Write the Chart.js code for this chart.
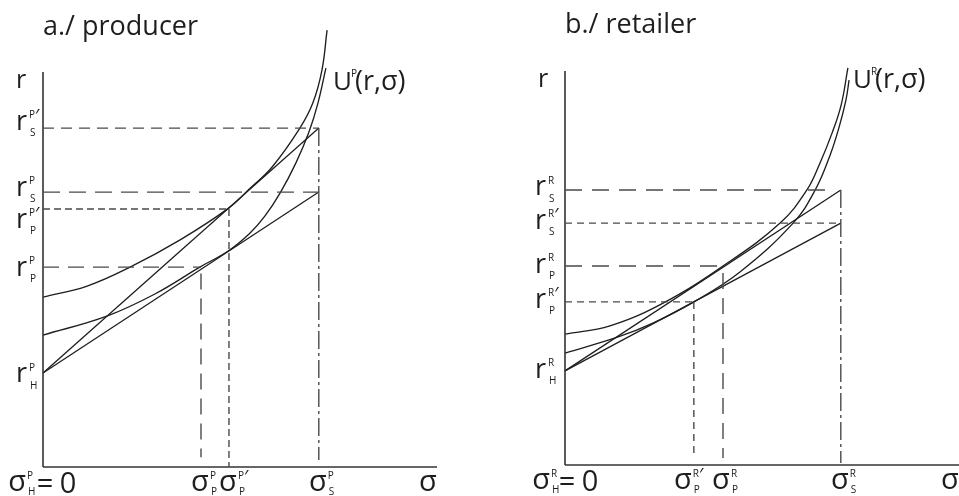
<!DOCTYPE html>
<html><head><meta charset="utf-8">
<script src="https://cdn.jsdelivr.net/npm/chart.js@4"></script>
<style>
html,body{margin:0;padding:0;background:#fff;overflow:hidden;}
#wrap{position:relative;width:959px;height:496px;}
.pane{position:absolute;top:0;height:496px;}
#pa{left:0;width:480px;} #pb{left:480px;width:479px;}
</style></head><body>
<div id="wrap"><div class="pane" id="pa"><canvas id="ca" width="480" height="496"></canvas></div><div class="pane" id="pb"><canvas id="cb" width="479" height="496"></canvas></div></div>
<script>
// ---------- producer (panel a) ----------
const producerCurveHighSigma = [0, 1.12, 2.21, 3.48, 4.72, 5.25, 5.81, 6.52, 6.85, 7.08, 7.21];
const producerCurveHighR     = [4.30, 4.58, 5.06, 5.75, 6.56, 7.05, 7.59, 8.58, 9.22, 10.05, 11.06];
const producerCurveLowSigma  = [0, 1.62, 2.84, 3.98, 4.70, 5.25, 5.63, 6.02, 6.42, 6.75, 6.98, 7.18];
const producerCurveLowR      = [3.34, 3.82, 4.38, 5.06, 5.47, 5.92, 6.35, 6.94, 7.70, 8.48, 9.22, 10.10];
const producerLineSigma      = [0, 7.0];
const producerLineLowR       = [2.38, 6.96];
const producerLineHighR      = [2.38, 8.58];
const producerRTicks         = [8.58, 6.96, 6.53, 5.06, 2.38];
const producerRTickSup       = ['P', 'P', 'P', 'P', 'P'];
const producerRTickPrime     = [true, false, true, false, false];
const producerRTickSub       = ['S', 'S', 'P', 'P', 'H'];
const producerSigmaTicks     = [0, 4.01, 4.72, 7.0];
const producerSigmaTickSup   = ['P', 'P', 'P', 'P'];
const producerSigmaTickPrime = [false, false, true, false];
const producerSigmaTickSub   = ['H', 'P', 'P', 'S'];

// ---------- retailer (panel b) ----------
const retailerCurveHighSigma = [0, 1.14, 2.49, 4.01, 5.46, 6.14, 6.47, 6.78, 7.01, 7.18];
const retailerCurveHighR     = [3.32, 3.53, 4.11, 5.05, 6.14, 6.98, 7.66, 8.43, 9.14, 10.08];
const retailerCurveLowSigma  = [0, 1.35, 2.23, 3.27, 4.44, 5.79, 6.35, 6.73, 6.95, 7.13, 7.21];
const retailerCurveLowR      = [2.84, 3.25, 3.60, 4.14, 4.90, 6.14, 6.98, 7.87, 8.55, 9.26, 9.77];
const retailerLineSigma      = [0, 7.0];
const retailerLineHighR      = [2.39, 6.98];
const retailerLineLowR       = [2.39, 6.14];
const retailerRTicks         = [6.98, 6.14, 5.05, 4.14, 2.39];
const retailerRTickSup       = ['R', 'R', 'R', 'R', 'R'];
const retailerRTickPrime     = [false, true, false, true, false];
const retailerRTickSub       = ['S', 'S', 'P', 'P', 'H'];
const retailerSigmaTicks     = [0, 3.27, 4.01, 7.0];
const retailerSigmaTickSup   = ['R', 'R', 'R', 'R'];
const retailerSigmaTickPrime = [false, true, false, false];
const retailerSigmaTickSub   = ['H', 'P', 'P', 'S'];

const FONT = '"Open Sans", "DejaVu Sans", sans-serif';
const INK = '#1e1e1e';
const GUIDE = '#4a4a4a';

function pts(xs, ys){ return xs.map((x,i)=>({x:x, y:ys[i]})); }
function lineDs(data, opt){
  return Object.assign({data:data, showLine:true, pointRadius:0, borderColor:INK, borderWidth:1.3,
    fill:false, clip:false, tension:0, capBezierPoints:false}, opt||{});
}
function curveDs(xs, ys){ return lineDs(pts(xs,ys), {tension:0.4, borderWidth:1.35}); }
function guide(x1,y1,x2,y2,dash){ return lineDs([{x:x1,y:y1},{x:x2,y:y2}], {borderColor:GUIDE, borderWidth:1.4, borderDash:dash}); }

function txt(ctx, s, x, y, size, align){
  ctx.font = size + 'px ' + FONT; ctx.textAlign = align || 'left'; ctx.textBaseline = 'alphabetic';
  ctx.fillStyle = INK; ctx.fillText(s, x, y);
}
function scripts(ctx, x, cy, sup, prime, sub, supDy, subDy){
  txt(ctx, sup, x, cy + supDy + 3.6, 10);
  if (prime){ ctx.font = '10px ' + FONT; const w = ctx.measureText(sup).width; txt(ctx, '\u2032', x + w, cy + supDy + 7.5, 19); }
  txt(ctx, sub, x + 1, cy + subDy + 3.6, 10);
}

function labelPlugin(L){
  return { id:'labels', afterDatasetsDraw(chart){
    const ctx = chart.ctx, xs = chart.scales.x, ys = chart.scales.y;
    const ax = xs.getPixelForValue(0), ay = ys.getPixelForValue(0), top = ys.getPixelForValue(10);
    ctx.save();
    txt(ctx, L.title, ax, L.titleY, 27);
    txt(ctx, 'r', ax - 22, top + 15.5, 25, 'center');
    txt(ctx, '\u03c3', xs.getPixelForValue(9.77), ay + 16 + 7.5, 29, 'center');
    L.rTicks.forEach((v,i)=>{
      const cy = ys.getPixelForValue(v) + L.rDy[i];
      txt(ctx, 'r', ax - L.rGap, cy + 7.5, 27, 'right');
      scripts(ctx, ax - L.rGap + 2, cy, L.rSup[i], L.rPrime[i], L.rSub[i], -8, 10);
    });
    L.sTicks.forEach((v,i)=>{
      const px = xs.getPixelForValue(v), cy = ay + 16;
      txt(ctx, '\u03c3', px + L.sDx[i], cy + 7.5, 29, 'center');
      scripts(ctx, px + L.sDx[i] + 10, cy, L.sSup[i], L.sPrime[i], L.sSub[i], -8, 8);
      if (i === 0){ txt(ctx, '=', ax + 2, cy + 9.5, 29, 'center'); txt(ctx, '0', ax + 25, cy + 9.5, 29, 'center'); }
    });
    const ux = xs.getPixelForValue(L.uSigma), uy = ys.getPixelForValue(L.uR);
    txt(ctx, 'U', ux, uy, 26);
    ctx.font = '26px ' + FONT; const wU = ctx.measureText('U').width;
    txt(ctx, L.uSup, ux + wU - 1, uy - 13, 10);
    txt(ctx, '(r,\u03c3)', ux + wU + 3, uy, 27);
    ctx.restore();
  }};
}

function makeChart(id, datasets, pad, L){
  return new Chart(document.getElementById(id), {
    type:'line',
    data:{datasets:datasets},
    options:{
      responsive:false, animation:false, devicePixelRatio:1,
      layout:{padding:pad},
      plugins:{legend:{display:false}, tooltip:{enabled:false}, title:{display:false}},
      scales:{
        x:{type:'linear', min:0, max:10, display:false},
        y:{type:'linear', min:0, max:10, display:false}
      }
    },
    plugins:[labelPlugin(L)]
  });
}

const axisStyle = {borderColor:'#333', borderWidth:1.6};

const dsA = [
  guide(0, producerRTicks[0], producerSigmaTicks[3], producerRTicks[0], [11,7]),
  guide(0, producerRTicks[1], producerSigmaTicks[3], producerRTicks[1], [17,9]),
  guide(0, producerRTicks[2], producerSigmaTicks[2], producerRTicks[2], [7,4]),
  guide(0, producerRTicks[3], producerSigmaTicks[1], producerRTicks[3], [16,9]),
  guide(producerSigmaTicks[1], 4.9, producerSigmaTicks[1], 0.25, [16,9]),
  guide(producerSigmaTicks[2], producerRTicks[2], producerSigmaTicks[2], 0, [7,4]),
  guide(producerSigmaTicks[3], producerRTicks[0], producerSigmaTicks[3], 0.18, [18,4,3,4]),
  lineDs(pts([0,0],[0,10]), axisStyle),
  lineDs(pts([0,10],[0,0]), axisStyle),
  lineDs(pts(producerLineSigma, producerLineLowR)),
  lineDs(pts(producerLineSigma, producerLineHighR)),
  curveDs(producerCurveHighSigma, producerCurveHighR),
  curveDs(producerCurveLowSigma, producerCurveLowR)
];
makeChart('ca', dsA, {left:43, right:43, top:72, bottom:29}, {
  title:'a./ producer', titleY:35,
  rTicks:producerRTicks, rSup:producerRTickSup, rPrime:producerRTickPrime, rSub:producerRTickSub,
  rDy:[-6,-4,11,1,2], rGap:16,
  sTicks:producerSigmaTicks, sSup:producerSigmaTickSup, sPrime:producerSigmaTickPrime, sSub:producerSigmaTickSub,
  sDx:[-26,-1,-1,-1],
  uSigma:7.36, uR:9.54, uSup:'P'
});

const dsB = [
  guide(0, retailerRTicks[0], 6.75, retailerRTicks[0], [17,10]),
  guide(0, retailerRTicks[1], retailerSigmaTicks[3], retailerRTicks[1], [7,5]),
  guide(0, retailerRTicks[2], retailerSigmaTicks[2], retailerRTicks[2], [17,10]),
  guide(0, retailerRTicks[3], retailerSigmaTicks[1], retailerRTicks[3], [7,5]),
  guide(retailerSigmaTicks[1], retailerRTicks[3], retailerSigmaTicks[1], 0.18, [7,5]),
  guide(retailerSigmaTicks[2], 4.87, retailerSigmaTicks[2], 0.18, [16,9]),
  guide(retailerSigmaTicks[3], retailerRTicks[0], retailerSigmaTicks[3], 0.05, [18,4,3,4]),
  lineDs(pts([0,0],[0,10]), axisStyle),
  lineDs(pts([0,10],[0,0]), axisStyle),
  lineDs(pts(retailerLineSigma, retailerLineHighR)),
  lineDs(pts(retailerLineSigma, retailerLineLowR)),
  curveDs(retailerCurveHighSigma, retailerCurveHighR),
  curveDs(retailerCurveLowSigma, retailerCurveLowR)
];
makeChart('cb', dsB, {left:85, right:0, top:71, bottom:31}, {
  title:'b./ retailer', titleY:33,
  rTicks:retailerRTicks, rSup:retailerRTickSup, rPrime:retailerRTickPrime, rSub:retailerRTickSub,
  rDy:[-2,-2,-1,-1,0], rGap:19,
  sTicks:retailerSigmaTicks, sSup:retailerSigmaTickSup, sPrime:retailerSigmaTickPrime, sSub:retailerSigmaTickSub,
  sDx:[-24,-11,-2,-1],
  uSigma:7.31, uR:9.57, uSup:'R'
});
</script>
</body></html>
